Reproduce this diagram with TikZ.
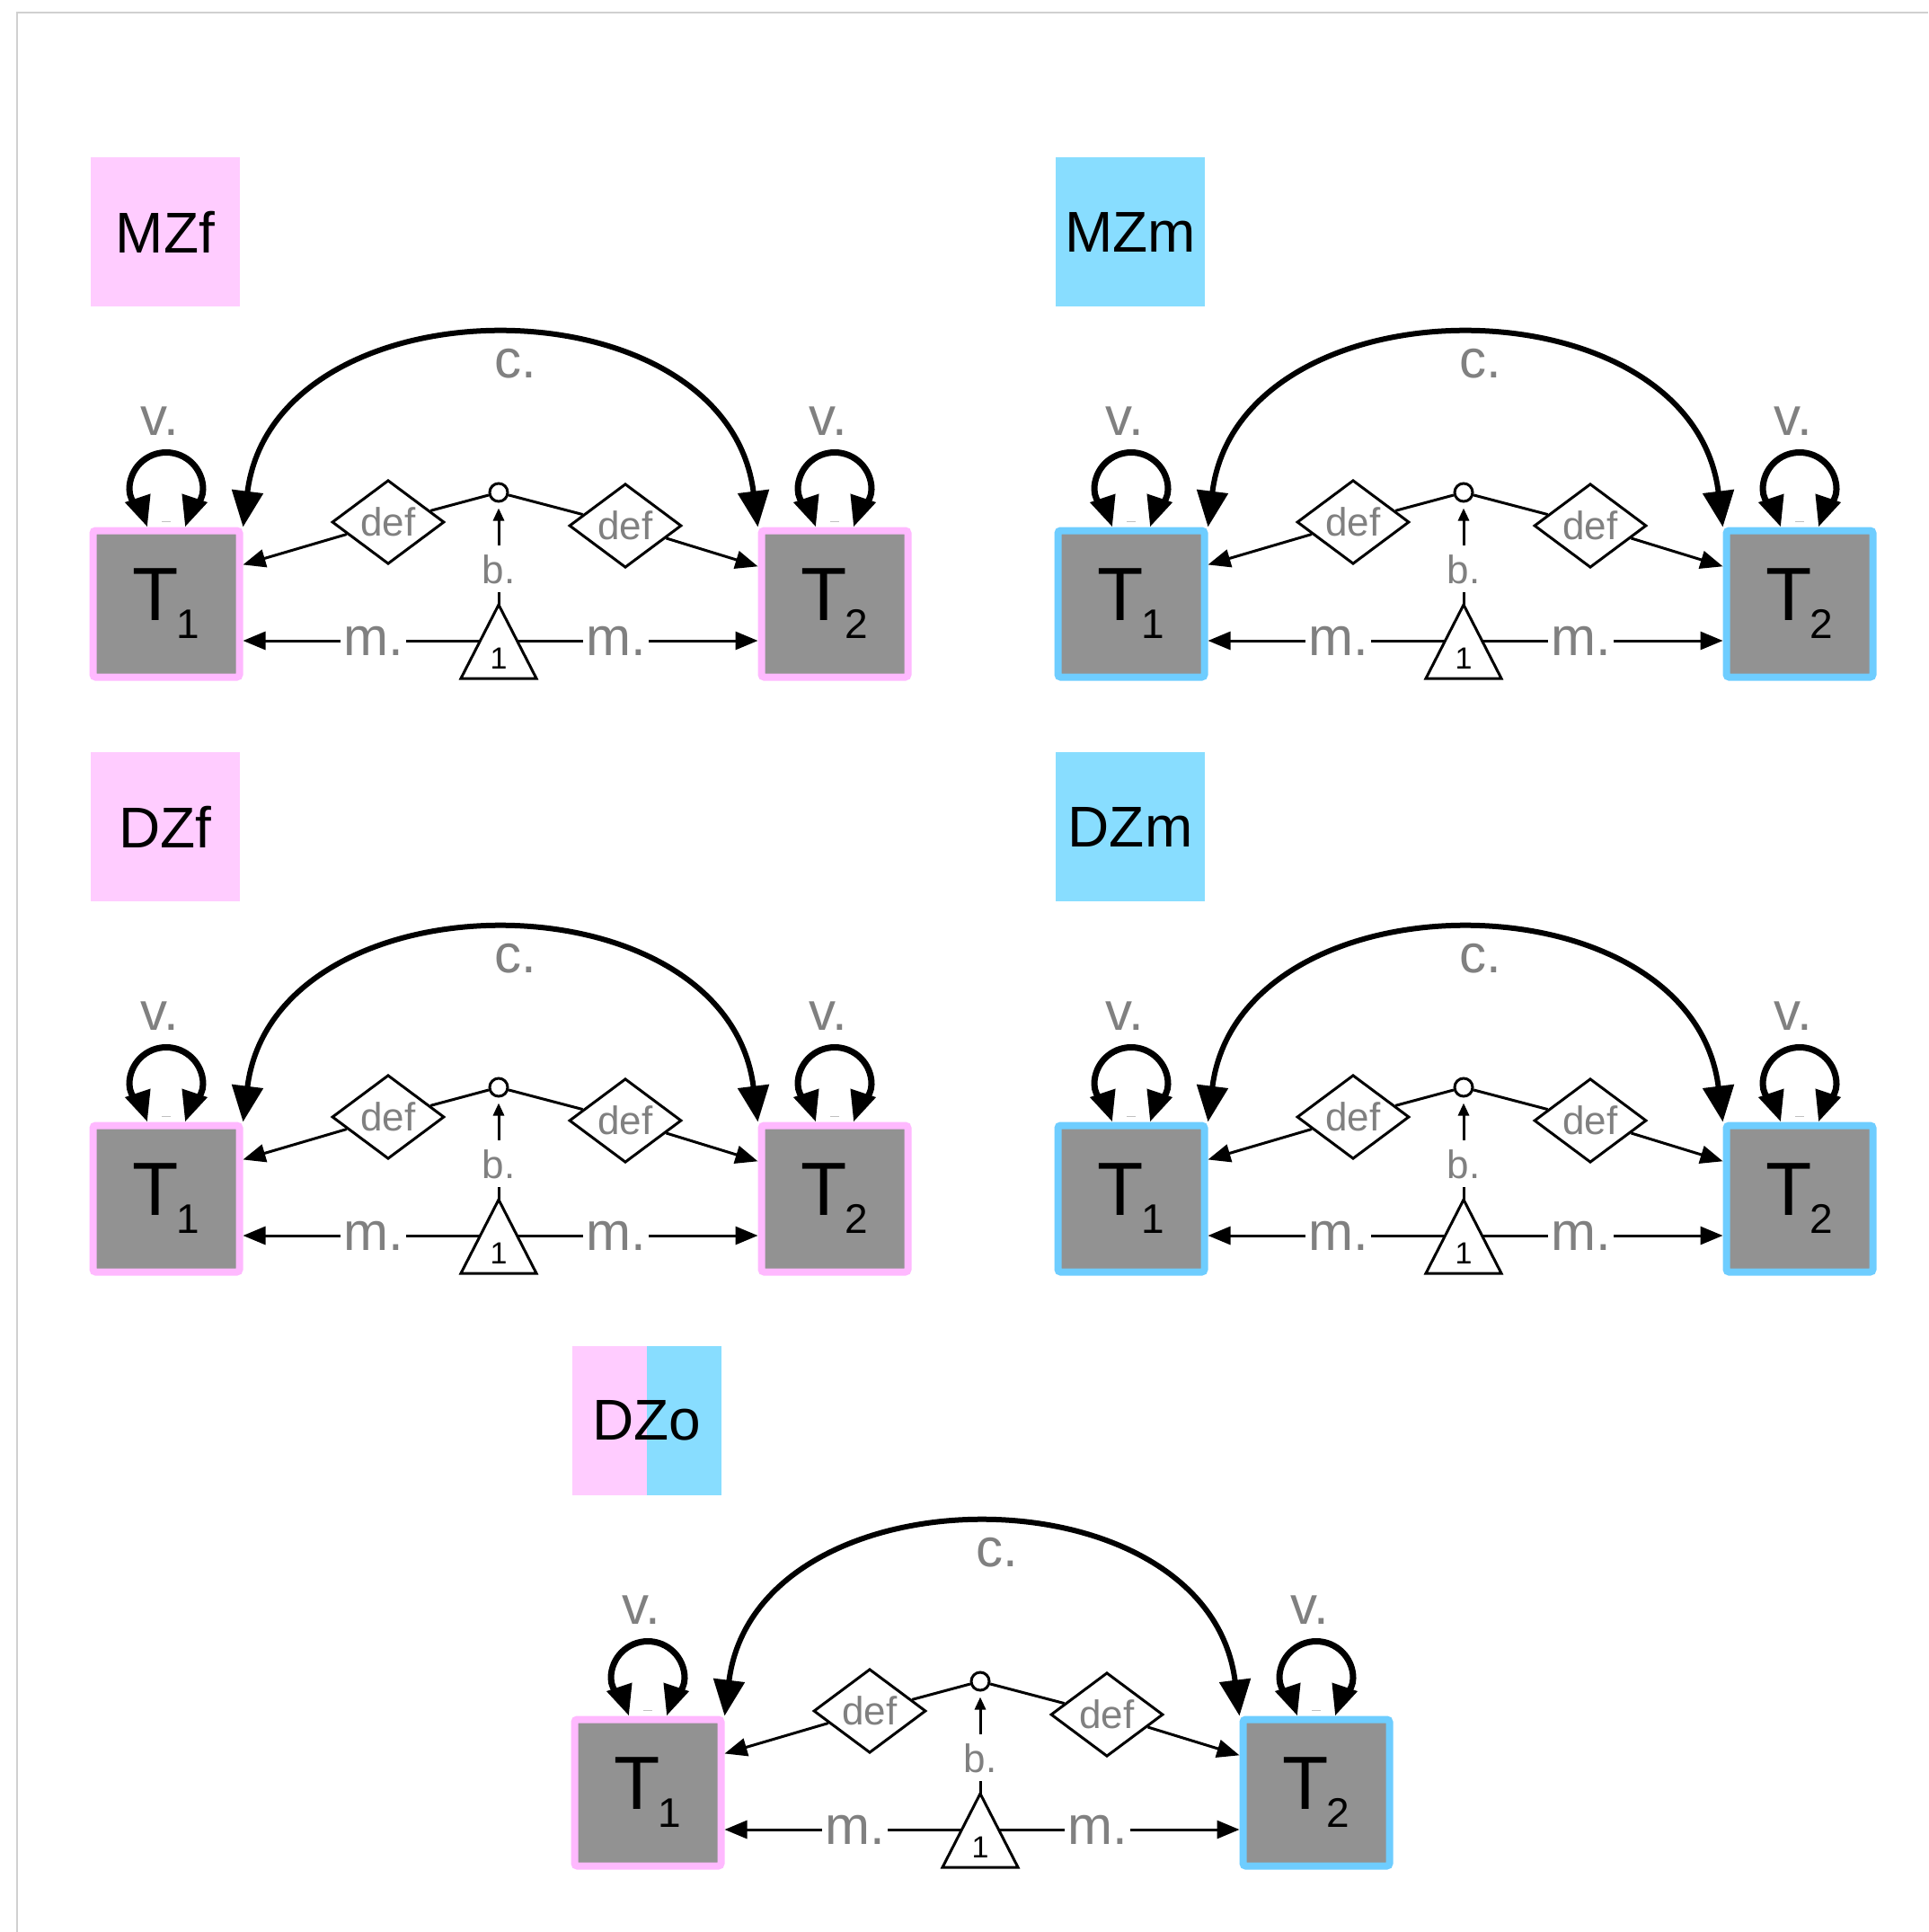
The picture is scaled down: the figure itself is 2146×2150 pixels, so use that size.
\documentclass[tikz,border=0pt]{standalone}
\usepackage{fontspec}
\setmainfont{Liberation Sans}
\usetikzlibrary{arrows.meta,shapes.geometric}

\definecolor{pinkfill}{RGB}{255,204,255}
\definecolor{bluefill}{RGB}{136,221,255}
\definecolor{pinkedge}{RGB}{255,185,255}
\definecolor{blueedge}{RGB}{110,205,255}
\definecolor{boxgray}{RGB}{146,146,146}
\definecolor{labelgray}{RGB}{128,128,128}
\definecolor{framegray}{RGB}{208,208,208}

\tikzset{
  twin/.style={rectangle, draw=#1, line width=4pt, fill=boxgray, minimum size=81.5pt,
    inner sep=0pt, rounded corners=1.5pt, font=\fontsize{42}{42}\selectfont},
  pathlabel/.style={text=labelgray, font=\fontsize{30}{30}\selectfont, fill=white, inner sep=1.5pt},
  smalllabel/.style={text=labelgray, font=\fontsize{22}{22}\selectfont},
  defbox/.style={diamond, draw, line width=1.5pt, fill=white, minimum width=62.5pt,
    minimum height=41.5pt, inner sep=0pt, text=labelgray, font=\fontsize{22}{22}\selectfont},
  junction/.style={circle, draw, line width=1.5pt, fill=white, minimum size=10pt, inner sep=0pt},
  thinarrow/.style={line width=1.5pt, -{Triangle[length=12.5pt,width=10pt]}},
  tinyarrow/.style={line width=1.5pt, -{Triangle[length=7pt,width=6pt]}, shorten >=3pt},
  thickarrow/.style={line width=3pt, {Triangle[length=20pt,width=17pt]}-{Triangle[length=20pt,width=17pt]}},
  loopstyle/.style={line width=3.5pt, {Triangle[length=17pt,width=14pt]}-{Triangle[length=17pt,width=14pt]}},
  grouplabel/.style={minimum size=83pt, inner sep=0pt, font=\fontsize{32}{32}\selectfont},
  unitmark/.style={line width=1.5pt, fill=white, line join=miter},
}

% twin label with subscript
\newcommand{\twinlabel}[1]{T\kern-1pt\raisebox{-10pt}{\fontsize{23}{23}\selectfont #1}}

% variance loop on top of a twin node: short legs and a round head
\newcommand{\varloop}[1]{%
  \draw[loopstyle] ([xshift=-10.5pt]#1.north) .. controls +(-5,-15) and +(0,15) .. ++(-20,-42)
    arc[start angle=180, end angle=0, radius=20.5pt]
    .. controls +(0,15) and +(5,-15) .. ([xshift=10.5pt]#1.north);
  \draw[labelgray!50, line width=0.8pt] ([xshift=-2.5pt,yshift=3pt]#1.north) -- ([xshift=2.5pt,yshift=3pt]#1.north);}

% one twin-pair path diagram: #1 name prefix, #2/#3 offset, #4/#5 edge colours
\newcommand{\twinpanel}[5]{%
\begin{scope}[shift={(#2,#3)}]
  \node[twin=#4] (#1t1) at (185,672) {\twinlabel{1}};
  \node[twin=#5] (#1t2) at (929,672) {\twinlabel{2}};
  \node[junction] (#1c) at (555,548) {};
  \node[defbox] (#1dl) at (432,581) {def};
  \node[defbox] (#1dr) at (696,585) {def};
  \coordinate (#1tri) at (555,673);
  \coordinate (#1tl) at (534,713);
  \coordinate (#1tr) at (576,713);
  % means
  \draw[thinarrow] (#1tl) -- node[pathlabel, pos=0.45] {m.} (#1t1.east |- #1tl);
  \draw[thinarrow] (#1tr) -- node[pathlabel, pos=0.41] {m.} (#1t2.west |- #1tr);
  % unit constant
  \filldraw[unitmark] (#1tri) -- ++(42,82) -- ++(-84,0) -- cycle;
  \node[font=\fontsize{17}{17}\selectfont] (#1one) at (555,733) {1};
  % definition variable paths
  \draw[tinyarrow] (#1tri) -- node[smalllabel, fill=white, pos=0.35, inner sep=5pt] {b.} (#1c);
  \draw[line width=1.5pt] (#1c) -- (#1dl);
  \draw[line width=1.5pt] (#1c) -- (#1dr);
  \draw[thinarrow] (#1dl) -- (#1t1.27);
  \draw[thinarrow] (#1dr) -- (#1t2.154);
  % covariance
  \draw[thickarrow] (#1t1.north east) .. controls +(35,-279) and +(-35,-279) .. (#1t2.north west);
  \node[pathlabel, fill=none] (#1cl) at (574,405) {c.};
  % variances
  \varloop{#1t1}
  \varloop{#1t2}
  \node[pathlabel, fill=none] (#1v1) at (178,469) {v.};
  \node[pathlabel, fill=none] (#1v2) at (922,469) {v.};
\end{scope}}

\begin{document}
\begin{tikzpicture}[x=0.5pt, y=-0.5pt]
  \useasboundingbox (0,0) rectangle (2146,2150);
  \fill[white] (0,0) rectangle (2146,2150);
  \draw[framegray, line width=1pt] (19,2150) -- (19,14) -- (2146,14);

  % group labels
  \node[grouplabel, fill=pinkfill] (gmzf) at (184,258) {MZf};
  \node[grouplabel, fill=bluefill] (gmzm) at (1258,258) {MZm};
  \node[grouplabel, fill=pinkfill] (gdzf) at (184,920) {DZf};
  \node[grouplabel, fill=bluefill] (gdzm) at (1258,920) {DZm};
  \fill[pinkfill] (637,1498) rectangle (720,1664);
  \fill[bluefill] (720,1498) rectangle (803,1664);
  \node[grouplabel] (gdzo) at (720,1581) {DZo};

  \twinpanel{mzf}{0}{0}{pinkedge}{pinkedge}
  \twinpanel{mzm}{1074}{0}{blueedge}{blueedge}
  \twinpanel{dzf}{0}{662}{pinkedge}{pinkedge}
  \twinpanel{dzm}{1074}{662}{blueedge}{blueedge}
  \twinpanel{dzo}{536}{1323}{pinkedge}{blueedge}
\end{tikzpicture}
\end{document}
